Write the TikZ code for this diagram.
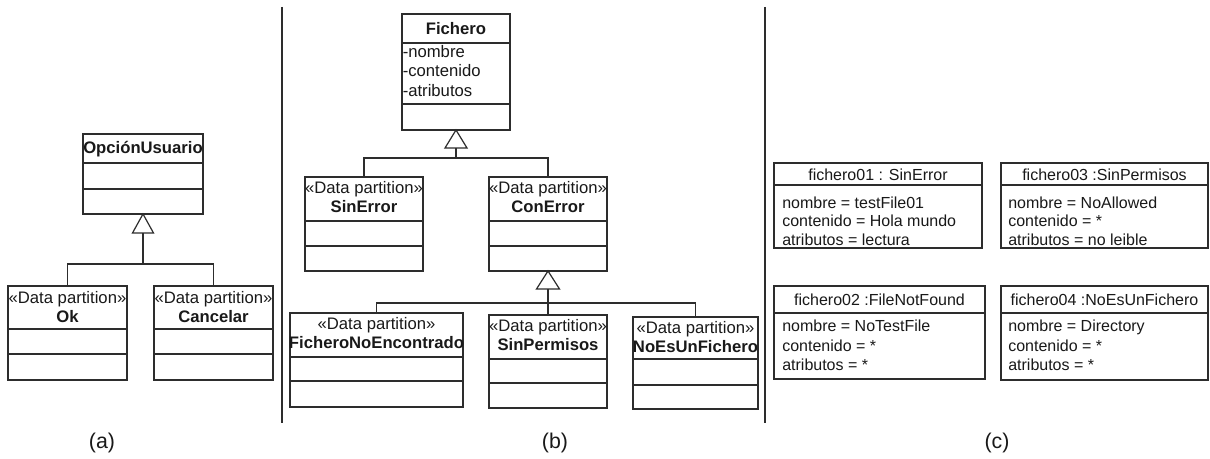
\documentclass[tikz,border=0pt]{standalone}
\usepackage{fontspec}
\setmainfont{Liberation Sans}
\definecolor{lc}{RGB}{45,45,45}
\definecolor{tc}{RGB}{25,25,25}
\tikzset{
  ln/.style={draw=lc, line width=0.9pt},
  box/.style={ln, rectangle, inner sep=0pt, outer sep=0pt, fill=white},
  hd/.style={font=\fontsize{12.5}{14.3}\selectfont, align=center, inner sep=0pt, text=tc},
  attr/.style={font=\fontsize{12}{14.3}\selectfont, inner sep=0pt, anchor=base west, text=tc},
  lab/.style={font=\fontsize{16}{18}\selectfont, inner sep=0pt, text=tc},
  gen/.style={ln, fill=white, line join=miter},
  sep/.style={draw=lc, line width=1.1pt},
}
% #1 name, #2 x1, #3 y1, #4 x2, #5 y2, #6 first divider, #7 second divider
\newcommand\clsbox[7]{%
  \node[box, anchor=north west, minimum width={(#4-#2)*0.75pt}, minimum height={(#5-#3)*0.75pt}] (#1) at (#2,#3) {};
  \draw[ln] (#2,#6) -- (#4,#6);
  \draw[ln] (#2,#7) -- (#4,#7);
}
\newcommand\objbox[6]{%
  \node[box, anchor=north west, minimum width={(#4-#2)*0.75pt}, minimum height={(#5-#3)*0.75pt}] (#1) at (#2,#3) {};
  \draw[ln] (#2,#6) -- (#4,#6);
}
% three attribute lines: #1 name prefix, #2 x, #3 first baseline, #4 step, #5 #6 #7 texts
\newcommand\attrlines[7]{%
  \node[attr] (#1-1) at (#2,#3) {#5};
  \node[attr] (#1-2) at (#2,{#3+#4}) {#6};
  \node[attr] (#1-3) at (#2,{#3+2*#4}) {#7};
}
\begin{document}
\begin{tikzpicture}[x=0.75pt, y=-0.75pt]
\useasboundingbox[fill=white] (0,0) rectangle (1210,459);

% separators
\draw[sep] (282,7) -- (282,423);
\draw[sep] (765,7) -- (765,423);

% ---------------- (a)
\clsbox{ou}{83}{134}{203}{214}{163}{189}
\node[hd, font=\fontsize{12.5}{14.3}\selectfont\bfseries] (ou-t) at (143,149) {OpciónUsuario};
\clsbox{ok}{8}{286}{127}{380}{329}{354}
\node[hd] (ok-t) at (67.5,307.5) {«Data partition»\\\textbf{Ok}};
\clsbox{canc}{154}{286}{273}{380}{329}{354}
\node[hd] (canc-t) at (213.5,307.5) {«Data partition»\\\textbf{Cancelar}};

\coordinate (ja) at (143,264);
\coordinate (ta) at (143,233);
\draw[ln] (ok.north) |- (ja);
\draw[ln] (canc.north) |- (ja);
\draw[ln, line width=1.4pt] (ja) -- (ta);
\draw[gen] (ou.south) -- (132.5,233) -- (153.5,233) -- cycle;

% ---------------- (b)
\clsbox{fi}{402}{14}{510}{130}{43}{104}
\node[hd, font=\fontsize{12.5}{14.3}\selectfont\bfseries] (fi-t) at (456,28.5) {Fichero};
\begingroup
\tikzset{attr/.append style={font=\fontsize{12.5}{14.6}\selectfont}}
\attrlines{fi-a}{402.5}{57.5}{19.5}{-nombre}{-contenido}{-atributos}
\endgroup

\clsbox{se}{305}{177}{423}{271}{221}{246}
\node[hd] (se-t) at (364,197.5) {«Data partition»\\\textbf{SinError}};
\clsbox{ce}{489}{177}{607}{271}{221}{246}
\node[hd] (ce-t) at (548,197.5) {«Data partition»\\\textbf{ConError}};

\coordinate (jb) at (456,158);
\coordinate (tb) at (456,148);
\draw[ln] (se.north) |- (jb);
\draw[ln] (ce.north) |- (jb);
\draw[ln] (jb) -- (tb);
\draw[gen] (fi.south) -- (445,148) -- (467,148) -- cycle;

\clsbox{fne}{290}{313}{463}{407}{357}{381}
\node[hd] (fne-t) at (376.5,333.5) {«Data partition»\\\textbf{FicheroNoEncontrado}};
\clsbox{sp}{489}{315}{607}{408}{359}{383}
\node[hd] (sp-t) at (548,335.5) {«Data partition»\\\textbf{SinPermisos}};
\clsbox{nef}{633}{317}{758}{409}{359}{385}
\node[hd] (nef-t) at (695.5,337.5) {«Data partition»\\\textbf{NoEsUnFichero}};

\coordinate (jc) at (548,303);
\coordinate (tc) at (548,289);
\draw[ln] (fne.north) |- (jc);
\draw[ln] (nef.north) |- (jc);
\draw[ln] (sp.north) -- (tc);
\draw[gen] (ce.south) -- (536.5,289) -- (559.5,289) -- cycle;

% ---------------- (c)
\objbox{o1}{774}{163}{982}{248}{185}
\node[hd, font=\fontsize{12}{14.3}\selectfont] (o1-t) at (878,175) {fichero01 : SinError};
\attrlines{o1-a}{782}{208.5}{18.5}{nombre = testFile01}{contenido = Hola mundo}{atributos = lectura}

\objbox{o3}{1001}{163}{1208}{248}{185}
\node[hd, font=\fontsize{12}{14.3}\selectfont] (o3-t) at (1104.5,175) {fichero03 :SinPermisos};
\attrlines{o3-a}{1008}{208.5}{18.5}{nombre = NoAllowed}{contenido = *}{atributos = no leible}

\objbox{o2}{774}{286}{985}{379}{313}
\node[hd, font=\fontsize{12}{14.3}\selectfont] (o2-t) at (879.5,300) {fichero02 :FileNotFound};
\attrlines{o2-a}{782}{332}{19.5}{nombre = NoTestFile}{contenido = *}{atributos = *}

\objbox{o4}{1001}{286}{1208}{380}{313}
\node[hd, font=\fontsize{12}{14.3}\selectfont] (o4-t) at (1104.5,300) {fichero04 :NoEsUnFichero};
\attrlines{o4-a}{1008}{332}{19.5}{nombre = Directory}{contenido = *}{atributos = *}

% labels
\node[lab] (la) at (102,443) {(a)};
\node[lab] (lb) at (555,443) {(b)};
\node[lab] (lc) at (997,443) {(c)};
\end{tikzpicture}
\end{document}
